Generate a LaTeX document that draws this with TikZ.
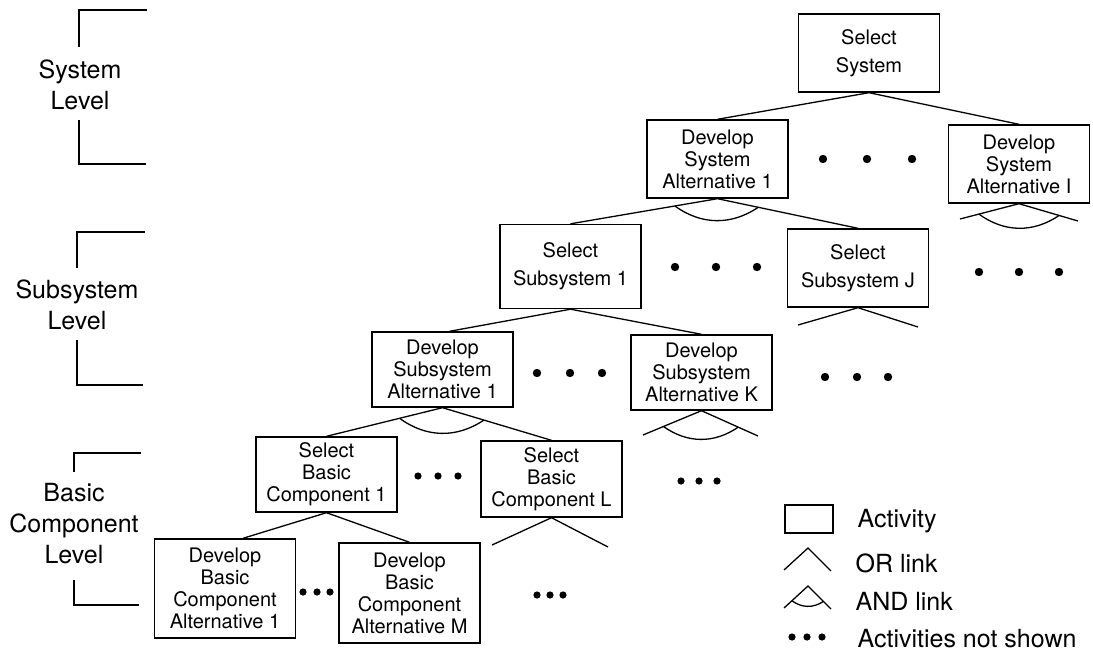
\documentclass[tikz,border=0pt]{standalone}
\usepackage{fontspec}
\setmainfont{TeX Gyre Heros}
\usetikzlibrary{calc}
\begin{document}
\begin{tikzpicture}[x=1pt,y=-1pt,line width=1.3pt,
  act/.style={draw, line width=1.4pt, minimum width=141pt, align=center, inner sep=0pt,
              font=\fontsize{20}{22}\selectfont},
  twoline/.style={act, font=\fontsize{20}{28}\selectfont},
  lvl/.style={align=center, inner sep=0pt, font=\fontsize{25}{31}\selectfont},
  leg/.style={anchor=base west, inner sep=0pt, font=\fontsize{25}{30}\selectfont},
  andarc/.style={bend right=35},
  bigdot/.style={radius=4.2pt},
  smalldot/.style={radius=3.6pt}]
\useasboundingbox (0,0) rectangle (1093,653);

% level labels and brackets
\node[lvl] (lsys) at (80,85) {System\\Level};
\node[lvl] (lsub) at (77,305) {Subsystem\\Level};
\node[lvl] (lbas) at (74,524) {Basic\\Component\\Level};
\draw (147,10) -- (79,10) -- (79,47);
\draw (79,120) -- (79,164) -- (146,164);
\draw (145,232) -- (77,232) -- (77,268);
\draw (77,340) -- (77,385) -- (143,385);
\draw (141,453) -- (74,453) -- (74,472);
\draw (74,580) -- (74,605) -- (139,605);

% activities
\node[twoline, minimum height=78pt] (selsys) at (869,53) {Select\\System};
\node[act, minimum height=78pt] (dsa1) at (717.5,159) {Develop\\System\\Alternative 1};
\node[act, minimum height=78pt] (dsai) at (1019,164) {Develop\\System\\Alternative I};
\node[twoline, minimum height=84pt] (ss1) at (570.5,266.5) {Select\\Subsystem 1};
\node[twoline, minimum height=78pt] (ssj) at (858,268) {Select\\Subsystem J};
\node[act, minimum height=75pt] (dsub1) at (442.5,369.5) {Develop\\Subsystem\\Alternative 1};
\node[act, minimum height=75pt] (dsubk) at (701.5,372.5) {Develop\\Subsystem\\Alternative K};
\node[act, minimum height=75pt] (sbc1) at (326.5,474.5) {Select\\Basic\\Component 1};
\node[act, minimum height=76pt] (sbcl) at (551.5,479) {Select\\Basic\\Component L};
\node[act, minimum height=99pt] (dbc1) at (225,588.5) {Develop\\Basic\\Component\\Alternative 1};
\node[act, minimum height=100pt] (dbcm) at (409.5,593) {Develop\\Basic\\Component\\Alternative M};

% links between activities
\draw (dsa1.north) -- (selsys.south) -- (dsai.north);
\draw (ss1.north) -- (dsa1.south) -- (ssj.north);
\draw ($(dsub1.north)+(7,0)$) -- (ss1.south) -- (dsubk.north);
\draw (sbc1.north) -- (dsub1.south) -- (sbcl.north);
\draw ($(dbc1.north)+(18,0)$) -- (sbc1.south) -- (dbcm.north);

% AND arcs on the shown links
\draw ($(dsa1.south)!0.29!(ss1.north)$) to[andarc] ($(dsa1.south)!0.29!(ssj.north)$);
\draw ($(dsub1.south)!0.37!(sbc1.north)$) to[andarc] ($(dsub1.south)!0.38!(sbcl.north)$);

% open links below activities whose children are not shown
\coordinate (dsai-l) at (960,219);
\coordinate (dsai-r) at (1078,221);
\draw (dsai-l) -- (dsai.south) -- (dsai-r);
\draw ($(dsai.south)!0.68!(dsai-l)$) to[andarc] ($(dsai.south)!0.68!(dsai-r)$);
\coordinate (dsubk-l) at (643,435);
\coordinate (dsubk-r) at (758,436);
\draw (dsubk-l) -- (dsubk.south) -- (dsubk-r);
\draw ($(dsubk.south)!0.65!(dsubk-l)$) to[andarc] ($(dsubk.south)!0.65!(dsubk-r)$);
\coordinate (ssj-l) at (798,325);
\coordinate (ssj-r) at (918,327);
\draw (ssj-l) -- (ssj.south) -- (ssj-r);
\coordinate (sbcl-l) at (492,545);
\coordinate (sbcl-r) at (608,547);
\draw (sbcl-l) -- (sbcl.south) -- (sbcl-r);

% activities not shown
\foreach \x in {823,867,912} \fill (\x,159) circle[bigdot];
\foreach \x in {675,716,757} \fill (\x,267) circle[bigdot];
\foreach \x in {979,1019,1059} \fill (\x,272) circle[bigdot];
\foreach \x in {537,570,602} \fill (\x,373) circle[bigdot];
\foreach \x in {825,857,888} \fill (\x,377) circle[bigdot];
\foreach \x in {418,438,458} \fill (\x,476) circle[smalldot];
\foreach \x in {681,699,717} \fill (\x,481) circle[smalldot];
\foreach \x in {303,317,330} \fill (\x,592) circle[smalldot];
\foreach \x in {537,550,563} \fill (\x,595) circle[smalldot];

% legend
\node[draw, line width=1.4pt, minimum width=48pt, minimum height=28pt, inner sep=0pt] (legact) at (809,519) {};
\node[leg] (tact) at (857,527) {Activity};
\coordinate (or-l) at (784,570);
\coordinate (or-t) at (808,548);
\coordinate (or-r) at (831,571);
\draw (or-l) -- (or-t) -- (or-r);
\node[leg] (tor) at (855,572) {OR link};
\coordinate (and-l) at (784,608);
\coordinate (and-t) at (808,586);
\coordinate (and-r) at (831,609);
\draw (and-l) -- (and-t) -- (and-r);
\draw ($(and-t)!0.67!(and-l)$) to[andarc] ($(and-t)!0.67!(and-r)$);
\node[leg] (tand) at (855,610) {AND link};
\foreach \x in {792,807,822} \fill (\x,637) circle[smalldot];
\node[leg] (tnot) at (857,647) {Activities not shown};
\end{tikzpicture}
\end{document}
